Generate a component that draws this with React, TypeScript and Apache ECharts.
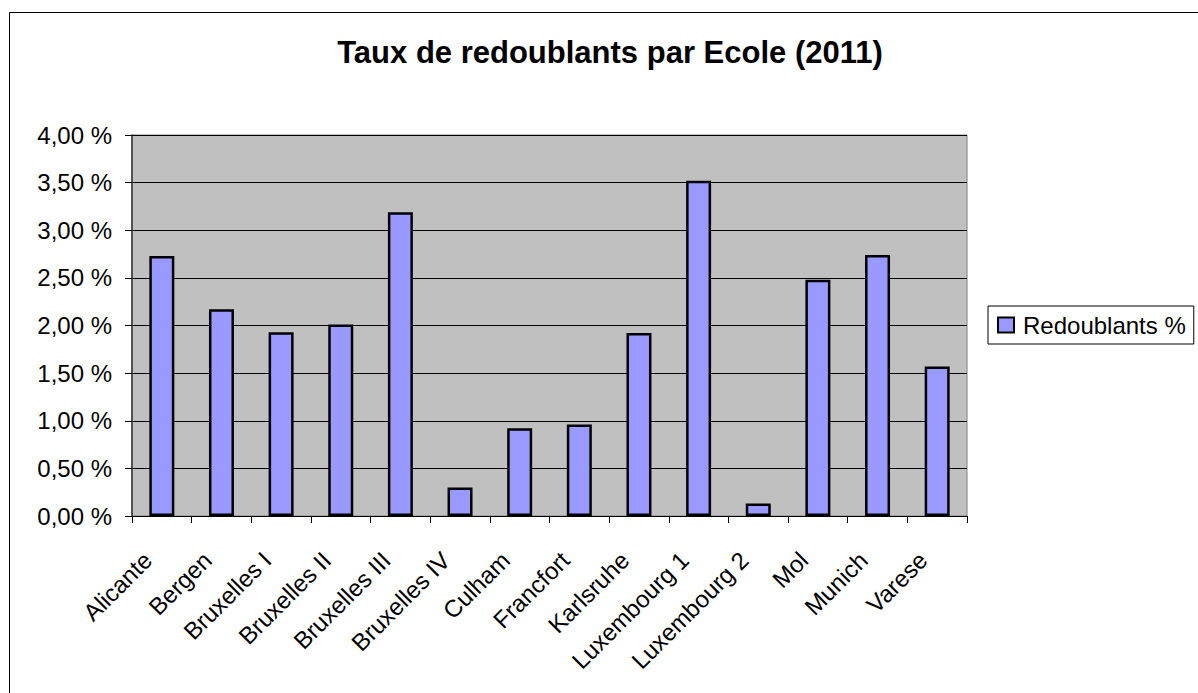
import React, { useEffect, useRef } from "react";
import * as echarts from "echarts";

const TITLE = "Taux de redoublants par Ecole (2011)";
const SERIES_NAME = "Redoublants %";
const categories = [
  "Alicante",
  "Bergen",
  "Bruxelles I",
  "Bruxelles II",
  "Bruxelles III",
  "Bruxelles IV",
  "Culham",
  "Francfort",
  "Karlsruhe",
  "Luxembourg 1",
  "Luxembourg 2",
  "Mol",
  "Munich",
  "Varese",
];
const values = [2.73, 2.17, 1.93, 2.01, 3.19, 0.3, 0.92, 0.96, 1.92, 3.52, 0.13, 2.48, 2.74, 1.57];
const yMin = 0;
const yMax = 4;
const yStep = 0.5;

const FONT = "'Liberation Sans', Arial, Helvetica, sans-serif";

export default function App() {
  const ref = useRef<HTMLDivElement>(null);
  useEffect(() => {
    if (!ref.current) return;
    const chart = echarts.init(ref.current, undefined, { renderer: "svg" });
    chart.setOption({
      animation: false,
      backgroundColor: "#ffffff",
      textStyle: { fontFamily: FONT },
      graphic: [
        {
          type: "rect",
          shape: { x: 9.5, y: 12.5, width: 2000, height: 2000 },
          style: { fill: "none", stroke: "#000000", lineWidth: 1 },
          silent: true,
        },
        {
          type: "text",
          x: 610,
          y: 52,
          style: {
            text: TITLE,
            fontFamily: FONT,
            fontSize: 31,
            fontWeight: "bold",
            fill: "#000000",
            textAlign: "center",
            textVerticalAlign: "middle",
          },
        },
      ],
      legend: {
        show: true,
        left: 988,
        top: 306,
        orient: "vertical",
        padding: [7, 8, 7, 9],
        borderColor: "#000000",
        borderWidth: 1,
        itemWidth: 16,
        itemHeight: 15,
        icon: "rect",
        textStyle: { fontFamily: FONT, fontSize: 24, color: "#000000", padding: [0, 0, 0, 4] },
        data: [{ name: SERIES_NAME, itemStyle: { color: "#9999ff", borderColor: "#000000", borderWidth: 2 } }],
      },
      grid: {
        left: 132,
        right: 231,
        top: 135,
        bottom: 177,
        show: true,
        backgroundColor: "#c0c0c0",
        borderColor: "#808080",
        borderWidth: 1,
      },
      xAxis: {
        type: "category",
        data: categories,
        boundaryGap: true,
        axisLine: { show: true, lineStyle: { color: "#000000", width: 1 } },
        axisTick: { show: true, alignWithLabel: false, length: 7, lineStyle: { color: "#000000" } },
        axisLabel: {
          interval: 0,
          rotate: 45,
          margin: 26,
          padding: [0, 20, 0, 0],
          fontFamily: FONT,
          fontSize: 24,
          color: "#000000",
        },
        splitLine: { show: false },
      },
      yAxis: {
        type: "value",
        min: yMin,
        max: yMax,
        interval: yStep,
        axisLine: { show: true, lineStyle: { color: "#333333", width: 1.5 } },
        axisTick: { show: true, length: 7, lineStyle: { color: "#000000" } },
        axisLabel: {
          margin: 20,
          fontFamily: FONT,
          fontSize: 24,
          color: "#000000",
          formatter: (v: number) => v.toFixed(2).replace(".", ",") + " %",
        },
        splitLine: { show: true, lineStyle: { color: "#000000", width: 1 } },
      },
      series: [
        {
          name: SERIES_NAME,
          type: "bar",
          data: values,
          barWidth: 25,
          itemStyle: { color: "#9999ff", borderColor: "#000000", borderWidth: 2.5 },
        },
      ],
    });
    return () => chart.dispose();
  }, []);
  return (
    <div
      ref={ref}
      style={{ position: "fixed", left: 0, top: 0, width: 1198, height: 693 }}
    />
  );
}
